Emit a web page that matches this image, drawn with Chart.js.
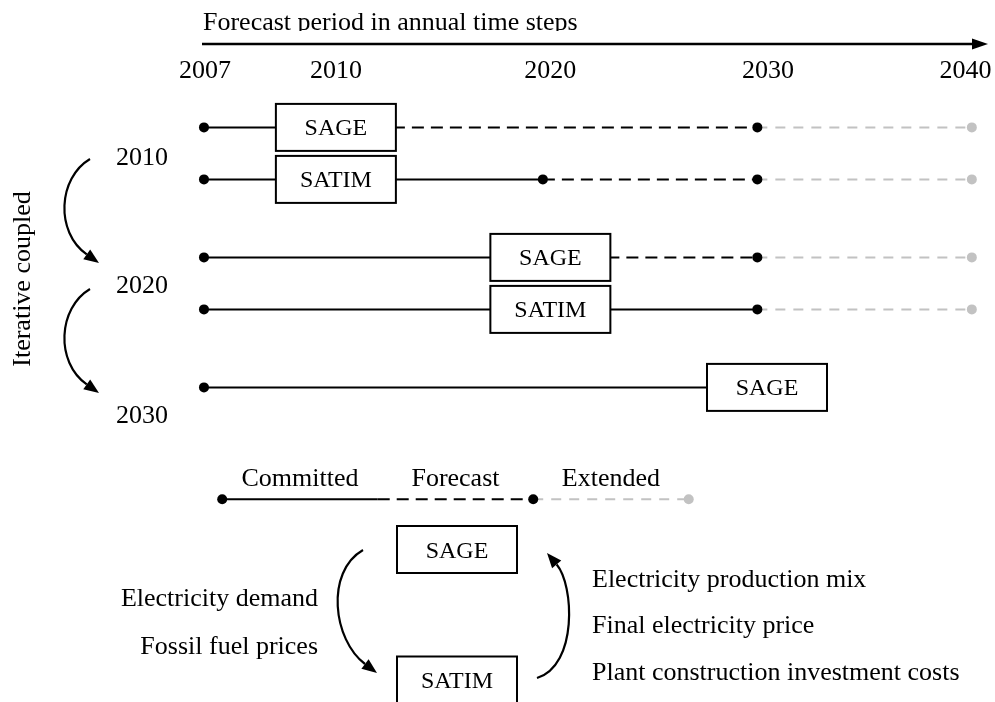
<!DOCTYPE html>
<html>
<head>
<meta charset="utf-8">
<style>
  html, body { margin: 0; padding: 0; background: #fff; }
  #wrap { width: 995px; height: 702px; }
</style>
</head>
<body>
<div id="wrap"><canvas id="coupling-chart"></canvas></div>
<script src="https://cdn.jsdelivr.net/npm/chart.js@4/dist/chart.umd.min.js"></script>
<script>
// time axis: tick labels and where they sit on the drawn axis (2007 is squeezed to the left)
const YEAR_LABELS = ['2007', '2010', '2020', '2030', '2040'];
const YEAR_POS = [2004.25, 2010.35, 2020.35, 2030.5, 2039.7];
const START = 2004.2;

// one row per model run
const ROW_MODEL = ['SAGE', 'SATIM', 'SAGE', 'SATIM', 'SAGE'];
const ROW_Y = [4.9, 6.9, 9.9, 11.9, 14.9];
const ROW_BOX = [2010.35, 2010.35, 2020.35, 2020.35, 2030.45];
const ROW_COMMITTED_END = [2010.35, 2020, 2020.35, 2030, 2030.45];
const ROW_FORECAST_END = [2030, 2030, 2030, 2030, null];
const ROW_EXTENDED_END = [2040, 2040, 2040, 2040, null];
const ROW_MARKS = [[2030], [2020, 2030], [2030], [2030], []];
const RUN_LABELS = ['2010', '2020', '2030'];

// legend line
const LEGEND_LABELS = ['Committed', 'Forecast', 'Extended'];
const LEGEND_STOPS = [2005.05, 2012.3, 2019.55, 2026.8];
const LEGEND_Y = 19.2;

// exchanged quantities in the coupling loop
const DEMAND_LINKS = ['Electricity demand', 'Fossil fuel prices'];
const SUPPLY_LINKS = ['Electricity production mix', 'Final electricity price', 'Plant construction investment costs'];

const SERIF = "'Liberation Serif', 'Times New Roman', serif";
const GREY = '#c2c2c2';

const SOLID = { borderColor: '#000', borderWidth: 2, borderDash: [], pointRadius: 0, showLine: true, order: 1 };
const DASHED = { borderColor: '#000', borderWidth: 2, borderDash: [12, 7], pointRadius: 0, showLine: true, order: 1 };
const EXTENDED = { borderColor: GREY, borderWidth: 2, borderDash: [10, 8], pointRadius: 0, showLine: true, order: 1 };

const pt = (x, y) => ({ x, y });
const datasets = [];
const blackDots = [];
const greyDots = [];

ROW_MODEL.forEach((model, i) => {
    const y = ROW_Y[i];
    datasets.push({ ...SOLID, data: [pt(START, y), pt(ROW_COMMITTED_END[i], y)] });
    if (ROW_FORECAST_END[i] !== null && ROW_FORECAST_END[i] > ROW_COMMITTED_END[i]) {
        datasets.push({ ...DASHED, data: [pt(ROW_COMMITTED_END[i], y), pt(ROW_FORECAST_END[i], y)] });
    }
    if (ROW_EXTENDED_END[i] !== null) {
        datasets.push({ ...EXTENDED, data: [pt(ROW_FORECAST_END[i], y), pt(ROW_EXTENDED_END[i], y)] });
        greyDots.push(pt(ROW_EXTENDED_END[i], y));
    }
    blackDots.push(pt(START, y));
    ROW_MARKS[i].forEach((x) => blackDots.push(pt(x, y)));
});

datasets.push({ ...SOLID, data: [pt(LEGEND_STOPS[0], LEGEND_Y), pt(LEGEND_STOPS[1], LEGEND_Y)] });
datasets.push({ ...DASHED, data: [pt(LEGEND_STOPS[1], LEGEND_Y), pt(LEGEND_STOPS[2], LEGEND_Y)] });
datasets.push({ ...EXTENDED, data: [pt(LEGEND_STOPS[2], LEGEND_Y), pt(LEGEND_STOPS[3], LEGEND_Y)] });
blackDots.push(pt(LEGEND_STOPS[0], LEGEND_Y), pt(LEGEND_STOPS[2], LEGEND_Y));
greyDots.push(pt(LEGEND_STOPS[3], LEGEND_Y));

datasets.push({ data: blackDots, showLine: false, pointRadius: 5, pointBackgroundColor: '#000', pointBorderWidth: 0, order: 0 });
datasets.push({ data: greyDots, showLine: false, pointRadius: 5, pointBackgroundColor: GREY, pointBorderWidth: 0, order: 0 });

function box(ctx, cx, cy, w, h, text) {
    ctx.fillStyle = '#fff';
    ctx.fillRect(cx - w / 2, cy - h / 2, w, h);
    ctx.lineWidth = 2;
    ctx.strokeStyle = '#000';
    ctx.strokeRect(cx - w / 2, cy - h / 2, w, h);
    ctx.fillStyle = '#000';
    ctx.font = '24px ' + SERIF;
    ctx.textAlign = 'center';
    ctx.textBaseline = 'alphabetic';
    ctx.fillText(text, cx, cy + 8);
}

function curvedArrow(ctx, p0, c1, c2, tip) {
    const ang = Math.atan2(tip[1] - c2[1], tip[0] - c2[0]);
    const len = 15;
    const half = 6;
    const bx = tip[0] - Math.cos(ang) * len;
    const by = tip[1] - Math.sin(ang) * len;
    ctx.lineWidth = 2.2;
    ctx.beginPath();
    ctx.moveTo(p0[0], p0[1]);
    ctx.bezierCurveTo(c1[0], c1[1], c2[0], c2[1], bx, by);
    ctx.stroke();
    ctx.beginPath();
    ctx.moveTo(tip[0], tip[1]);
    ctx.lineTo(bx + Math.sin(ang) * half, by - Math.cos(ang) * half);
    ctx.lineTo(bx - Math.sin(ang) * half, by + Math.cos(ang) * half);
    ctx.closePath();
    ctx.fill();
}

const diagramPlugin = {
    id: 'diagram',
    afterDatasetsDraw(chart) {
        const ctx = chart.ctx;
        const xs = chart.scales.x;
        const ys = chart.scales.y;
        ctx.save();
        ctx.fillStyle = '#000';
        ctx.strokeStyle = '#000';

        // title, cut off at its baseline as in the original
        ctx.save();
        ctx.beginPath();
        ctx.rect(0, 0, chart.width, 31);
        ctx.clip();
        ctx.font = '26px ' + SERIF;
        ctx.textAlign = 'left';
        ctx.textBaseline = 'alphabetic';
        ctx.fillText('Forecast period in annual time steps', 203, 30);
        ctx.restore();

        // time arrow
        ctx.lineWidth = 2.5;
        ctx.beginPath();
        ctx.moveTo(202, 44);
        ctx.lineTo(976, 44);
        ctx.stroke();
        ctx.beginPath();
        ctx.moveTo(988, 44);
        ctx.lineTo(972, 38.5);
        ctx.lineTo(972, 49.5);
        ctx.closePath();
        ctx.fill();

        ctx.font = '26px ' + SERIF;
        ctx.textAlign = 'center';
        YEAR_LABELS.forEach((lab, i) => ctx.fillText(lab, xs.getPixelForValue(YEAR_POS[i]), 78));

        // model boxes
        ROW_MODEL.forEach((model, i) => {
            box(ctx, xs.getPixelForValue(ROW_BOX[i]), ys.getPixelForValue(ROW_Y[i]), 120, 47, model);
        });

        // run years and iteration arrows
        ctx.font = '26px ' + SERIF;
        ctx.textAlign = 'center';
        [165, 293, 423].forEach((y, i) => ctx.fillText(RUN_LABELS[i], 142, y));
        curvedArrow(ctx, [90, 159], [58, 178], [55, 232], [99, 263]);
        curvedArrow(ctx, [90, 289], [58, 308], [55, 362], [99, 393]);

        ctx.save();
        ctx.translate(30, 279);
        ctx.rotate(-Math.PI / 2);
        ctx.textAlign = 'center';
        ctx.fillText('Iterative coupled', 0, 0);
        ctx.restore();

        // legend labels centred over their segments
        LEGEND_LABELS.forEach((lab, i) => {
            const cx = (xs.getPixelForValue(LEGEND_STOPS[i]) + xs.getPixelForValue(LEGEND_STOPS[i + 1])) / 2;
            ctx.fillText(lab, cx, 486);
        });

        // coupling loop
        box(ctx, 457, 549.5, 120, 47, 'SAGE');
        box(ctx, 457, 680, 120, 47, 'SATIM');
        ctx.fillStyle = '#000';
        curvedArrow(ctx, [363, 550], [325, 572], [333, 640], [377, 673]);
        curvedArrow(ctx, [537, 678], [578, 665], [574, 585], [547, 553]);

        ctx.font = '26px ' + SERIF;
        ctx.textAlign = 'right';
        [606, 654].forEach((y, i) => ctx.fillText(DEMAND_LINKS[i], 318, y));
        ctx.textAlign = 'left';
        [587, 633, 680].forEach((y, i) => ctx.fillText(SUPPLY_LINKS[i], 592, y));

        ctx.restore();
    },
};

new Chart(document.getElementById('coupling-chart'), {
    type: 'scatter',
    data: { datasets },
    options: {
        responsive: true,
        maintainAspectRatio: false,
        animation: false,
        events: [],
        layout: { padding: 0, autoPadding: false },
        plugins: {
            legend: { display: false },
            tooltip: { enabled: false },
        },
        scales: {
            x: { type: 'linear', display: false, min: 1994.69, max: 2041.08 },
            y: { type: 'linear', display: false, min: 0, max: 27, reverse: true },
        },
    },
    plugins: [diagramPlugin],
});
</script>
</body>
</html>
